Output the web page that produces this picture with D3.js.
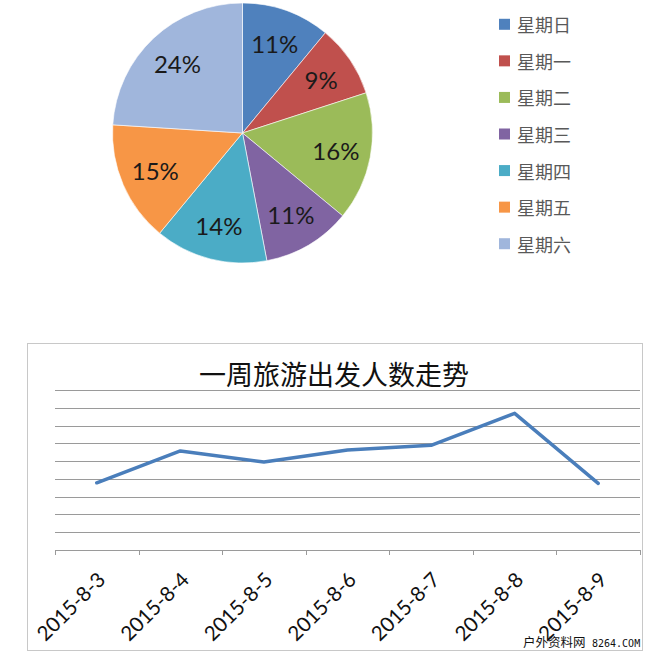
<!DOCTYPE html>
<html><head><meta charset="utf-8">
<script src="https://cdn.jsdelivr.net/npm/d3@7"></script>
<style>body{margin:0;background:#fff} svg{display:block}</style>
</head><body><svg id="c" width="650" height="655"></svg>
<script>
const days = ["星期日","星期一","星期二","星期三","星期四","星期五","星期六"];
const shares = [11, 9, 16, 11, 14, 15, 24];
const pieColors = ["#4F81BD","#C0504D","#9BBB59","#8064A2","#4BACC6","#F79646","#A0B6DC"];
const dates = ["2015-8-3","2015-8-4","2015-8-5","2015-8-6","2015-8-7","2015-8-8","2015-8-9"];
const travellers = [1890, 2785, 2475, 2810, 2945, 3845, 1875];
const yTicks = [500, 1000, 1500, 2000, 2500, 3000, 3500, 4000, 4500];
const title = "一周旅游出发人数走势";
const watermark = ["户外资料网", "8264.COM"];

const svg = d3.select("#c");

// ---------- Pie ----------
const pieData = days.map((d, i) => ({day: d, v: shares[i], c: pieColors[i]}));
const pie = d3.pie().value(d => d.v).sort(null);
const R = 130;
const arc = d3.arc().innerRadius(0).outerRadius(R);
const labelArc = d3.arc().innerRadius(95).outerRadius(95);
const pg = svg.append("g").attr("transform", "translate(242.5,133)");
const arcs = pie(pieData);
pg.selectAll("path").data(arcs).join("path")
  .attr("d", arc).attr("fill", d => d.data.c)
  .attr("stroke", "#fff").attr("stroke-width", 0.6);
pg.selectAll("text").data(arcs).join("text")
  .attr("transform", d => `translate(${labelArc.centroid(d)})`)
  .attr("text-anchor", "middle").attr("dominant-baseline", "central")
  .attr("font-family", "Lato, 'Open Sans', sans-serif").attr("font-size", 24)
  .attr("fill", "#1a1a1a")
  .text(d => d.data.v + "%");

// legend
const lg = svg.append("g");
const legY = d3.scaleBand().domain(days).range([6, 262]);
days.forEach((d, i) => {
  const cy = legY(d) + legY.bandwidth() / 2;
  lg.append("rect").attr("x", 499).attr("y", cy - 5.5).attr("width", 11).attr("height", 11).attr("fill", pieColors[i]);
  lg.append("text").attr("x", 517).attr("y", cy).attr("dominant-baseline", "central")
    .attr("font-family", "'Noto Sans CJK SC', sans-serif").attr("font-size", 18)
    .attr("fill", "#595959").text(d);
});

// ---------- Line chart ----------
svg.append("rect").attr("x", 27.5).attr("y", 343.5).attr("width", 615).attr("height", 307)
  .attr("fill", "#fff").attr("stroke", "#c8c8c8").attr("stroke-width", 1);

const x = d3.scaleBand().domain(dates).range([55, 640]);
const y = d3.scaleLinear().domain([0, 4500]).range([550, 390]);

svg.append("text").attr("x", 334).attr("y", 385).attr("text-anchor", "middle")
  .attr("font-family", "'Noto Sans CJK SC', sans-serif").attr("font-size", 27)
  .attr("fill", "#111").text(title);

const gg = svg.append("g");
gg.selectAll("line").data(yTicks).join("line")
  .attr("x1", 55).attr("x2", 640)
  .attr("y1", d => Math.round(y(d)) + 0.5).attr("y2", d => Math.round(y(d)) + 0.5)
  .attr("stroke", "#9a9a9a").attr("stroke-width", 1);

// x axis
const bounds = dates.map(d => x(d)).concat([x.range()[1]]);
const ax = svg.append("g");
ax.append("line").attr("x1", 55).attr("x2", 640).attr("y1", y(0) + 0.5).attr("y2", y(0) + 0.5)
  .attr("stroke", "#9a9a9a");
ax.selectAll("line.t").data(bounds).join("line").attr("class", "t")
  .attr("x1", d => Math.round(d) + 0.5).attr("x2", d => Math.round(d) + 0.5)
  .attr("y1", y(0)).attr("y2", y(0) + 5).attr("stroke", "#9a9a9a");
ax.selectAll("text").data(dates).join("text")
  .attr("transform", d => `translate(${x(d) + x.bandwidth() / 2 + 10},${y(0) + 31}) rotate(-45)`)
  .attr("text-anchor", "end")
  .attr("font-family", "Lato, 'Open Sans', sans-serif").attr("font-size", 20.5)
  .attr("fill", "#111").text(d => d);

// line
const line = d3.line().x((d, i) => x(dates[i]) + x.bandwidth() / 2).y(d => y(d));
svg.append("path").datum(travellers).attr("d", line)
  .attr("fill", "none").attr("stroke", "#4A7EBB").attr("stroke-width", 3.5)
  .attr("stroke-linejoin", "round").attr("stroke-linecap", "round");

// watermark
const wm = svg.append("g");
wm.append("text").attr("x", 523).attr("y", 647).attr("font-family", "'Noto Sans CJK SC', sans-serif")
  .attr("font-size", 12.5).attr("fill", "#111").text(watermark[0]);
wm.append("text").attr("x", 592).attr("y", 647).attr("font-family", "'DejaVu Sans Mono', monospace")
  .attr("font-size", 10).attr("fill", "#111").text(watermark[1]);
</script></body></html>
